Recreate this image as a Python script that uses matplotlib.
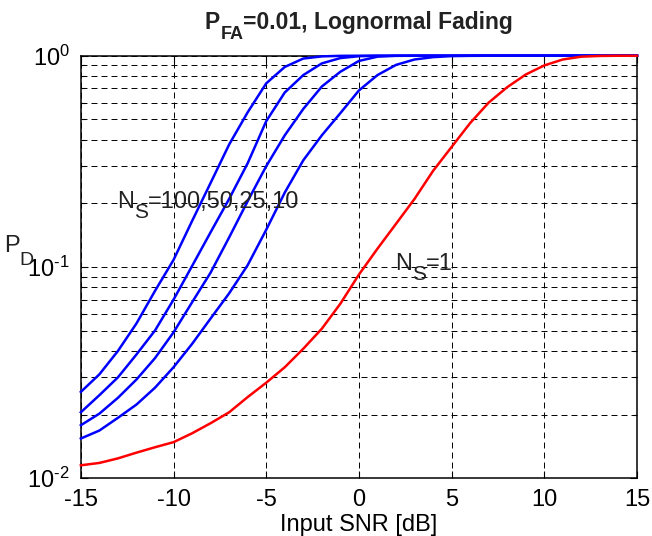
import numpy as np
import matplotlib
matplotlib.use("Agg")
import matplotlib.pyplot as plt

plt.rcParams['font.family'] = ['Liberation Sans', 'DejaVu Sans']
plt.rcParams['mathtext.fontset'] = 'custom'
plt.rcParams['mathtext.rm'] = 'Liberation Sans'
plt.rcParams['mathtext.it'] = 'Liberation Sans'
plt.rcParams['mathtext.bf'] = 'Liberation Sans:bold'
plt.rcParams['axes.unicode_minus'] = False
plt.rcParams['lines.scale_dashes'] = False

# input SNR [dB]
snr = np.arange(-15, 16)

# detection probability, lognormal fading, Pfa = 0.01
pd_100 = [0.0256, 0.031, 0.040, 0.054, 0.077, 0.108, 0.165, 0.25, 0.38, 0.54,
          0.74, 0.885, 0.97, 0.993, 0.999] + [1.0] * 16
pd_50 = [0.0205, 0.0247, 0.030, 0.0385, 0.050, 0.070, 0.101, 0.146, 0.21, 0.31,
         0.49, 0.67, 0.81, 0.92, 0.975, 0.995] + [1.0] * 15
pd_25 = [0.0178, 0.0202, 0.024, 0.0293, 0.037, 0.049, 0.068, 0.094, 0.138, 0.205,
         0.30, 0.42, 0.56, 0.715, 0.84, 0.945, 0.99, 0.999] + [1.0] * 13
pd_10 = [0.0154, 0.0168, 0.0193, 0.0223, 0.0268, 0.0335, 0.0432, 0.057, 0.075, 0.102,
         0.15, 0.225, 0.32, 0.42, 0.535, 0.685, 0.81, 0.905, 0.96, 0.985,
         0.996, 0.999] + [1.0] * 9
pd_1 = [0.0115, 0.0118, 0.0124, 0.0132, 0.014, 0.0148, 0.0163, 0.0182, 0.0205, 0.0242,
        0.0283, 0.0335, 0.041, 0.051, 0.067, 0.092, 0.122, 0.16, 0.21, 0.285,
        0.37, 0.48, 0.6, 0.71, 0.815, 0.9, 0.96, 0.99, 0.998, 1.0, 1.0]

ytick_vals = [0.01, 0.1, 1]
ytick_labels = [r'$10^{\text{-2}}$', r'$10^{\text{-1}}$', r'$10^{\text{0}}$']


def sub_text(ax, x, y, parts, coords='data', **kw):
    # parts: (string, fontsize, drop in points) chained left to right,
    # so subscripts can sit lower than mathtext would put them
    prev = None
    for s, size, drop in parts:
        if prev is None:
            prev = ax.annotate(s, xy=(x, y), xycoords=coords, xytext=(0, -drop),
                               textcoords='offset points', fontsize=size,
                               ha='left', va='baseline', **kw)
        else:
            prev = ax.annotate(s, xy=(1, y), xycoords=(prev, coords),
                               xytext=(0, -drop), textcoords='offset points',
                               fontsize=size, ha='left', va='baseline', **kw)


fig = plt.figure(figsize=(6.52, 5.36), dpi=100)
ax = fig.add_axes([0.124, 0.108, 0.853, 0.788])

for pd in [pd_100, pd_50, pd_25, pd_10]:
    ax.plot(snr, pd, color='#0000ff', lw=1.8, clip_on=False, zorder=3)
ax.plot(snr, pd_1, color='#ff0000', lw=1.8, clip_on=False, zorder=3)

ax.set_yscale('log')
ax.set_xlim(-15, 15)
ax.set_ylim(0.01, 1)
ax.set_xticks(np.arange(-15, 16, 5))
ax.set_yticks(ytick_vals)
ax.set_yticklabels(ytick_labels)

dash = (0, (4.3, 2.9))
ax.grid(True, which='major', color='k', lw=0.7, linestyle=dash)
ax.grid(True, which='minor', axis='y', color='k', lw=0.7, linestyle=dash)

ax.tick_params(which='both', direction='in', top=True, right=True,
               labelsize=17, colors='k', width=0.8)
ax.tick_params(which='major', length=5, pad=8)
ax.tick_params(which='minor', length=3)
for s in ax.spines.values():
    s.set_linewidth(1.1)

ax.set_xlabel('Input SNR [dB]', fontsize=17, labelpad=2)

# y label, title and annotations with dropped subscripts
sub_text(ax, -0.138, 0.535, [('P', 17, 0), ('D', 14, 9)],
         coords='axes fraction', color='#222222')
sub_text(ax, 205 / 652, 1 - 29 / 536, [('P', 16.5, 0), ('FA', 13, 7),
                                       ('=0.01, Lognormal Fading', 16.5, 0)],
         coords='figure fraction', color='#222222', fontweight='bold')
sub_text(ax, -13.03, 0.19, [('N', 17, 0), ('S', 15, 7), ('=100,50,25,10', 17, 0)],
         color='#222222')
sub_text(ax, 1.95, 0.0965, [('N', 17, 0), ('S', 15, 7), ('=1', 17, 0)],
         color='#222222')

fig.savefig('out.png', dpi=100)
